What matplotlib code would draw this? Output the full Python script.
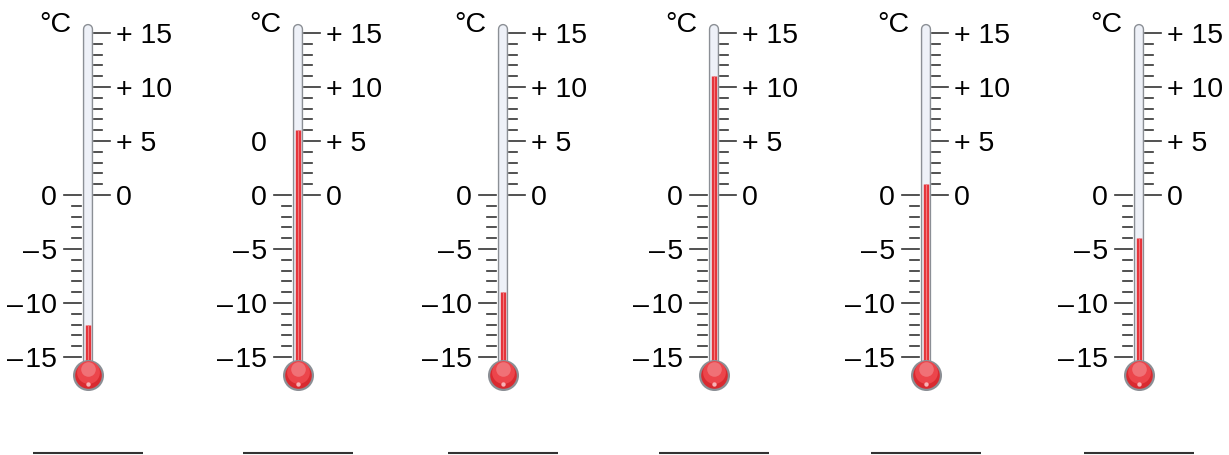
import matplotlib.pyplot as plt
import numpy as np

plt.rcParams['font.family'] = ['Liberation Sans', 'DejaVu Sans']

# readings shown on the six thermometers (degrees C)
readings = [-12, 6, -9, 11, 1, -4]
right_ticks = [0, 5, 10, 15]
right_labels = ['0', '+ 5', '+ 10', '+ 15']
left_ticks = [0, -5, -10, -15]
left_labels = ['0', '\u2013\u200a5', '\u2013\u200a10', '\u2013\u200a15']
# stray extra label printed on the second thermometer
extra_label = {1: (5, '0')}

centers = [88, 298, 503, 714, 926, 1139]   # x of each tube, px
px_per_deg = 10.8
zero_px = 195
H, W = 455, 1229

fig = plt.figure(figsize=(W / 100, H / 100), dpi=100)
ax = fig.add_axes([0, 0, 1, 1])
ax.set_xlim(0, W)
ax.set_ylim((zero_px - H) / px_per_deg, zero_px / px_per_deg)
ax.axis('off')

tube_top = 15.4
bulb_y = -16.7
outline = '#8b8f95'
glass = '#eef1f8'
red = '#e5333a'
ink = '#333333'
fs = 20.5

for i, (c, t) in enumerate(zip(centers, readings)):
    # glass tube
    ax.plot([c, c], [bulb_y, tube_top], color=outline, lw=7.4,
            solid_capstyle='round', zorder=2)
    ax.plot([c, c], [bulb_y, tube_top], color=glass, lw=5.4,
            solid_capstyle='round', zorder=3)
    # mercury column
    ax.plot([c, c], [bulb_y, t], color=red, lw=3.9,
            solid_capstyle='butt', zorder=4)
    ax.plot([c, c], [bulb_y, t], color='#f27a7e', lw=0.8,
            solid_capstyle='butt', zorder=5)
    # bulb
    ax.scatter([c], [bulb_y], s=430, color='#d92a30', edgecolor=outline,
               linewidth=1.6, zorder=6)
    ax.scatter([c], [bulb_y + 0.3], s=270, color='#ec454b', lw=0,
               zorder=7)
    ax.scatter([c], [bulb_y + 0.55], s=110, color='#f48f93', lw=0,
               alpha=0.6, zorder=8)
    ax.scatter([c], [bulb_y - 0.8], s=10, color='#f7b3b6', lw=0,
               zorder=8)

    # right scale 0..15
    for v in range(0, 16):
        x1 = c + 22 if v % 5 == 0 else c + 14
        ax.plot([c + 6, x1], [v, v], color=ink, lw=1.2, zorder=1)
    for v, lab in zip(right_ticks, right_labels):
        ax.text(c + 28, v, lab, ha='left', va='center_baseline',
                fontsize=fs, color='black')
    # left scale 0..-15
    for v in range(-15, 1):
        x0 = c - 24 if v % 5 == 0 else c - 16
        ax.plot([x0, c - 7], [v, v], color=ink, lw=1.2, zorder=1)
    for v, lab in zip(left_ticks, left_labels):
        ax.text(c - 31, v, lab, ha='right', va='center_baseline',
                fontsize=fs, color='black')
    if i in extra_label:
        v, lab = extra_label[i]
        ax.text(c - 31, v, lab, ha='right', va='center_baseline',
                fontsize=fs, color='black')

    ax.text(c - 33, 16.0, '\u00b0C', ha='center', va='center_baseline',
            fontsize=fs, color='black')

    # answer line
    ax.plot([c - 55, c + 55], [-23.9, -23.9], color=ink, lw=1.5,
            solid_capstyle='butt')

fig.savefig('out.png', dpi=100)
